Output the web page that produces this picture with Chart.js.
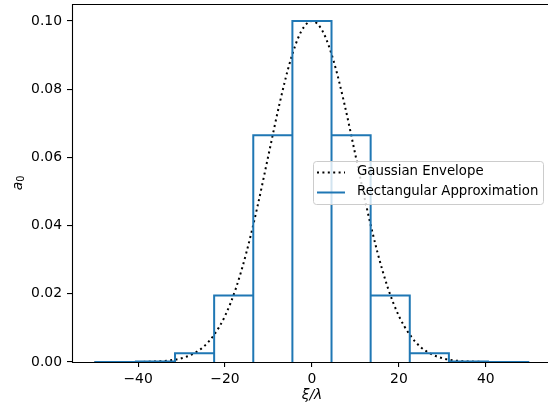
<!DOCTYPE html>
<html>
<head>
<meta charset="utf-8">
<script src="https://cdn.jsdelivr.net/npm/chart.js@4.4.1/dist/chart.umd.min.js"></script>
<style>
html,body{margin:0;padding:0;background:#fff;overflow:hidden;width:548px;height:409px;}
canvas{position:absolute;left:0;top:0;}
</style>
</head>
<body>
<canvas id="c" width="548" height="409" style="width:548px;height:409px"></canvas>
<script>
// ---- data ----
const gaussX = [-50,-47.5,-45,-42.5,-40,-37.5,-35,-32.5,-30,-27.5,-25,-22.5,-20,-17.5,-15,-12.5,-10,-7.5,-5,-2.5,0,2.5,5,7.5,10,12.5,15,17.5,20,22.5,25,27.5,30,32.5,35,37.5,40,42.5,45,47.5,50];
const gaussY = [0,0,0,0,0,0.0001,0.0002,0.0005,0.0011,0.0023,0.0044,0.0080,0.0135,0.0216,0.0325,0.0458,0.0607,0.0755,0.0882,0.0969,0.1,0.0969,0.0882,0.0755,0.0607,0.0458,0.0325,0.0216,0.0135,0.0080,0.0044,0.0023,0.0011,0.0005,0.0002,0.0001,0,0,0,0,0];
const binEdges = [-50,-40.5,-31.5,-22.5,-13.5,-4.5,4.5,13.5,22.5,31.5,40.5,50];
const binHeights = [0,0.00015,0.0026,0.0195,0.0665,0.1,0.0665,0.0195,0.0026,0.00015,0];
const xTicks = [-40,-20,0,20,40];
const yTicks = [0,0.02,0.04,0.06,0.08,0.10];
const seriesLabels = ['Gaussian Envelope','Rectangular Approximation'];
const xLabel = 'ξ/λ';
const yLabelMain = 'a';
const yLabelSub = '0';

// ---- build ----
const gaussPts = gaussX.map((x,i)=>({x:x,y:gaussY[i]}));
const rectPts = [];
for (let i=0;i<binHeights.length;i++){
  const a=binEdges[i], b=binEdges[i+1], h=binHeights[i];
  rectPts.push({x:a,y:0},{x:a,y:h},{x:b,y:h},{x:b,y:0});
}
const FONT = "'DejaVu Sans', sans-serif";
const BLUE = '#1f77b4';
const fmtMinus = v => (v<0?'\u2212':'') + Math.abs(v);

const overlay = {
  id:'overlay',
  afterDatasetsDraw(chart){
    const ctx=chart.ctx, ca=chart.chartArea;
    ctx.save();
    // spines (right spine lies beyond the visible canvas)
    ctx.strokeStyle='#000'; ctx.lineWidth=1.1;
    const L=Math.round(ca.left)+0.5, T=Math.round(ca.top)+0.5, B=Math.round(ca.bottom)+0.5;
    ctx.beginPath();
    ctx.moveTo(ca.right+2,T); ctx.lineTo(L,T); ctx.lineTo(L,B); ctx.lineTo(ca.right+2,B);
    ctx.stroke();
    // legend
    const lx=313.5, ly=161.5, lw=230, lh=43, r=3;
    ctx.beginPath();
    ctx.moveTo(lx+r,ly); ctx.lineTo(lx+lw-r,ly); ctx.arcTo(lx+lw,ly,lx+lw,ly+r,r);
    ctx.lineTo(lx+lw,ly+lh-r); ctx.arcTo(lx+lw,ly+lh,lx+lw-r,ly+lh,r);
    ctx.lineTo(lx+r,ly+lh); ctx.arcTo(lx,ly+lh,lx,ly+lh-r,r);
    ctx.lineTo(lx,ly+r); ctx.arcTo(lx,ly,lx+r,ly,r); ctx.closePath();
    ctx.fillStyle='rgba(255,255,255,0.8)'; ctx.fill();
    ctx.strokeStyle='#cccccc'; ctx.lineWidth=1; ctx.stroke();
    // handles
    ctx.lineWidth=2; ctx.lineCap='butt';
    ctx.strokeStyle='#000'; ctx.setLineDash([2,3.4]);
    ctx.beginPath(); ctx.moveTo(317,172.5); ctx.lineTo(345,172.5); ctx.stroke();
    ctx.setLineDash([]); ctx.strokeStyle=BLUE;
    ctx.beginPath(); ctx.moveTo(317,192.5); ctx.lineTo(345,192.5); ctx.stroke();
    ctx.fillStyle='#000'; ctx.font="13.3px "+FONT; ctx.textBaseline='middle'; ctx.textAlign='left';
    ctx.fillText(seriesLabels[0],357,172);
    ctx.fillText(seriesLabels[1],357,192);
    // axis labels
    ctx.font="italic 13.9px "+FONT; ctx.textAlign='center';
    ctx.fillText(xLabel, 312, 395);
    ctx.save(); ctx.translate(18,183); ctx.rotate(-Math.PI/2);
    ctx.textAlign='left';
    ctx.font="italic 13.9px "+FONT;
    const wa = ctx.measureText(yLabelMain).width;
    ctx.font="9.7px "+FONT;
    const w0 = ctx.measureText(yLabelSub).width;
    const start = -(wa+w0)/2;
    ctx.font="italic 13.9px "+FONT;
    ctx.fillText(yLabelMain,start,0);
    ctx.font="9.7px "+FONT;
    ctx.fillText(yLabelSub,start+wa,3);
    ctx.restore();
    ctx.restore();
  }
};

new Chart(document.getElementById('c'),{
  type:'scatter',
  data:{datasets:[
    {label:seriesLabels[0],data:gaussPts,showLine:true,borderColor:'#000',borderWidth:2,borderDash:[2,3.4],borderCapStyle:'butt',pointRadius:0,cubicInterpolationMode:'monotone',fill:false,order:2},
    {label:seriesLabels[1],data:rectPts,showLine:true,borderColor:BLUE,borderWidth:2,pointRadius:0,tension:0,fill:false,order:1}
  ]},
  options:{
    responsive:false,maintainAspectRatio:false,animation:false,
    layout:{padding:{top:4,right:0,left:0,bottom:0}},
    plugins:{legend:{display:false},tooltip:{enabled:false}},
    scales:{
      x:{type:'linear',min:-55.2,max:54.3,
        afterBuildTicks:s=>{s.ticks=xTicks.map(v=>({value:v}));},
        afterFit:s=>{s.height=47;s.paddingLeft=0;s.paddingRight=0;},
        grid:{drawOnChartArea:false,drawTicks:true,tickLength:5,color:'#000',lineWidth:1.1},
        border:{display:false},
        ticks:{color:'#000',font:{family:FONT,size:13.9},padding:4,maxRotation:0,callback:v=>fmtMinus(v)}
      },
      y:{type:'linear',min:0,max:0.105,
        afterBuildTicks:s=>{s.ticks=yTicks.map(v=>({value:v}));},
        afterFit:s=>{s.width=72;s.paddingTop=0;s.paddingBottom=0;},
        grid:{drawOnChartArea:false,drawTicks:true,tickLength:5,color:'#000',lineWidth:1.1},
        border:{display:false},
        ticks:{color:'#000',font:{family:FONT,size:13.9},padding:5,callback:v=>v.toFixed(2)}
      }
    }
  },
  plugins:[overlay]
});
</script>
</body>
</html>
